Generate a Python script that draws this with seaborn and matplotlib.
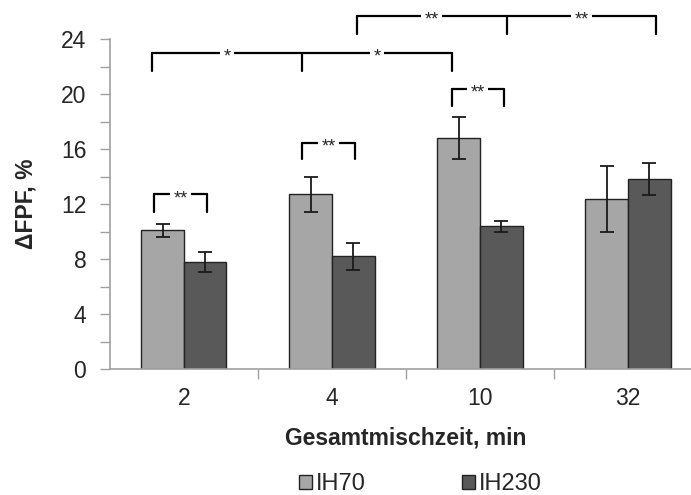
import numpy as np
import pandas as pd
import seaborn as sns
import matplotlib.pyplot as plt
from matplotlib.patches import Patch

times = ['2', '4', '10', '32']
series = ['IH70', 'IH230']
ih70 = [10.1, 12.7, 16.8, 12.4]
ih70_err = [0.47, 1.3, 1.5, 2.4]
ih230 = [7.8, 8.2, 10.4, 13.8]
ih230_err = [0.72, 0.97, 0.4, 1.17]
colors = ['#a6a6a6', '#595959']

df = pd.DataFrame({
    'time': times * 2,
    'series': ['IH70'] * 4 + ['IH230'] * 4,
    'value': ih70 + ih230,
})

sns.set_style('white')
plt.rcParams['font.family'] = ['Liberation Sans', 'DejaVu Sans']

fig = plt.figure(figsize=(6.91, 4.95), dpi=100)
ax = fig.add_axes([0.159, 0.2545, 0.857, 0.6665])

sns.barplot(data=df, x='time', y='value', hue='series', order=times,
            hue_order=series, palette=colors, width=0.575, errorbar=None,
            edgecolor='#222222', linewidth=1.0, legend=False, ax=ax)

# error bars on the bar centres
errs = [ih70_err, ih230_err]
vals = [ih70, ih230]
bars = list(ax.containers)
for k, cont in enumerate(bars):
    xs = [p.get_x() + p.get_width() / 2 for p in cont.patches]
    ax.errorbar(xs, vals[k], yerr=errs[k], fmt='none', ecolor='#1a1a1a',
                elinewidth=1.3, capsize=5, capthick=1.3, zorder=5)

ax.set_xlim(-0.5, 3.5)
ax.set_ylim(0, 24)
ax.set_yticks(np.arange(0, 25, 4))
ax.set_yticks(np.arange(2, 24, 4), minor=True)
ax.tick_params(axis='y', which='both', direction='out', length=7, width=1,
               color='#a0a0a0', labelsize=16.5, pad=10, left=True)
ax.set_xticks([0, 1, 2, 3])
ax.set_xticklabels(times)
ax.set_xticks([0.5, 1.5, 2.5], minor=True)
ax.tick_params(axis='x', which='major', length=0, labelsize=16.5, pad=13)
ax.tick_params(axis='x', which='minor', direction='out', length=7, width=1,
               color='#a0a0a0', bottom=True)
for s in ['top', 'right']:
    ax.spines[s].set_visible(False)
for s in ['left', 'bottom']:
    ax.spines[s].set_color('#a0a0a0')
    ax.spines[s].set_linewidth(1.2)

ax.set_xlabel('Gesamtmischzeit, min', fontsize=16.5, fontweight='bold', labelpad=12)
ax.set_ylabel('ΔFPF, %', fontsize=16.5, fontweight='bold', labelpad=17)


def bracket(xs, y_top, y_bot, stars, fs=13):
    ax.plot([xs[0], xs[-1]], [y_top, y_top], color='black', lw=1.6,
            clip_on=False, zorder=6)
    for x in xs:
        ax.plot([x, x], [y_top, y_bot], color='black', lw=1.6,
                clip_on=False, zorder=6)
    for i, s in enumerate(stars):
        xm = (xs[i] + xs[i + 1]) / 2
        ax.annotate(s, (xm, y_top), xytext=(0, -3), textcoords='offset points',
                    ha='center', va='center', fontsize=fs, zorder=7,
                    annotation_clip=False,
                    bbox=dict(facecolor='white', edgecolor='none', pad=2.5))


bracket([1.17, 2.18, 3.19], 25.67, 24.4, ['**', '**'])
bracket([-0.216, 0.797, 1.81], 23.0, 21.7, ['*', '*'])
bracket([-0.2, 0.155], 12.7, 11.4, ['**'])
bracket([0.8, 1.155], 16.46, 15.27, ['**'])
bracket([1.81, 2.16], 20.4, 19.1, ['**'])

handles = [Patch(facecolor=c, edgecolor='#222222', linewidth=1.0) for c in colors]
fig.legend(handles, series, loc='center', bbox_to_anchor=(0.6085, 0.022),
           ncol=2, frameon=False, fontsize=17, handlelength=0.55,
           handleheight=0.55, handletextpad=0.17, columnspacing=4.07)

fig.savefig('out.png', dpi=100)
